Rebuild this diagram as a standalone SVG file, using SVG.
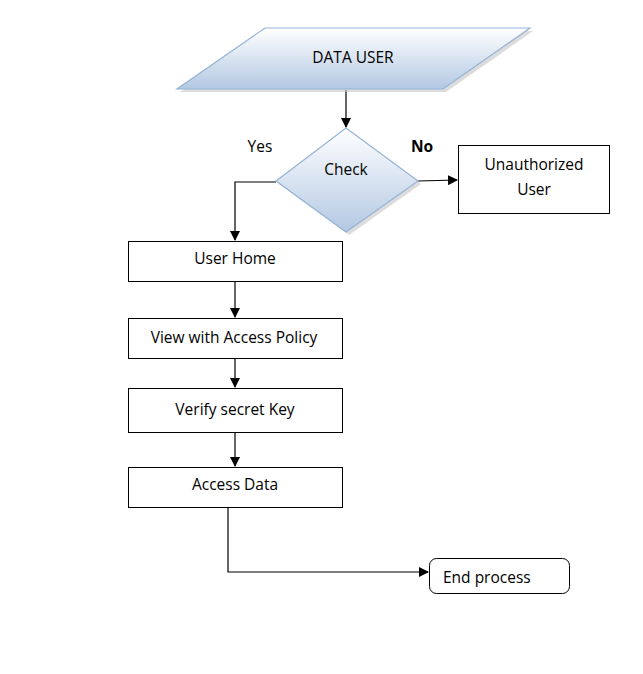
<svg xmlns="http://www.w3.org/2000/svg" width="643" height="674" viewBox="0 0 643 674">
<defs>
<linearGradient id="blue" x1="0" y1="0" x2="0" y2="1">
<stop offset="0" stop-color="#ffffff"/>
<stop offset="1" stop-color="#b3c8e3"/>
</linearGradient>
<marker id="arr" markerWidth="10" markerHeight="10" refX="9" refY="5" orient="auto" markerUnits="userSpaceOnUse">
<path d="M0,0 L10,5 L0,10 z" fill="#000"/>
</marker>
<style>
text{font-family:"Open Sans","Liberation Sans",Arial,sans-serif;font-size:15.5px;fill:#000;text-anchor:middle}
.box{fill:#fff;stroke:#000;stroke-width:1}
.shape{fill:url(#blue);stroke:#95b3d7;stroke-width:1.2}
.shadow{fill:#c4c4c4;opacity:0.6}
.conn{fill:none;stroke:#000;stroke-width:1.2}
</style>
</defs>
<rect width="643" height="674" fill="#fff"/>
<g id="connectors">
<path class="conn" d="M346,90 L346,127" marker-end="url(#arr)"/>
<path class="conn" d="M418,181 L457,180" marker-end="url(#arr)"/>
<path class="conn" d="M276,182 L235,182 L235,240" marker-end="url(#arr)"/>
<path class="conn" d="M235,282 L235,317" marker-end="url(#arr)"/>
<path class="conn" d="M235,358 L235,387" marker-end="url(#arr)"/>
<path class="conn" d="M235,432 L235,466" marker-end="url(#arr)"/>
<path class="conn" d="M228,507 L228,572 L428,572" marker-end="url(#arr)"/>
</g>
<g id="data-user">
<polygon class="shadow" points="268,31 533,31 446,92 180,92"/>
<polygon class="shape" points="265,28 530,28 443,89 177,89"/>
<text x="353" y="63">DATA USER</text>
</g>
<g id="check">
<polygon class="shadow" points="349,131 421,184 349,235 279,184"/>
<polygon class="shape" points="346,128 418,181 346,232 276,181"/>
<text x="346" y="175">Check</text>
</g>
<g id="labels">
<text x="260" y="152">Yes</text>
<text x="422" y="152" font-weight="bold">No</text>
</g>
<g id="unauthorized">
<rect class="box" x="458.500" y="145.500" width="151" height="68"/>
<text x="534" y="170">Unauthorized</text>
<text x="534" y="195">User</text>
</g>
<g id="user-home">
<rect class="box" x="128.500" y="241.500" width="214" height="40"/>
<text x="235" y="264">User Home</text>
</g>
<g id="view">
<rect class="box" x="128.500" y="318.500" width="214" height="40"/>
<text x="234" y="343">View with Access Policy</text>
</g>
<g id="verify">
<rect class="box" x="128.500" y="388.500" width="214" height="44"/>
<text x="235" y="415">Verify secret Key</text>
</g>
<g id="access">
<rect class="box" x="128.500" y="467.500" width="214" height="40"/>
<text x="235" y="490">Access Data</text>
</g>
<g id="end">
<rect class="box" x="429.500" y="558.500" width="140" height="35" rx="7"/>
<text x="443" y="583" style="text-anchor:start">End process</text>
</g>
</svg>
